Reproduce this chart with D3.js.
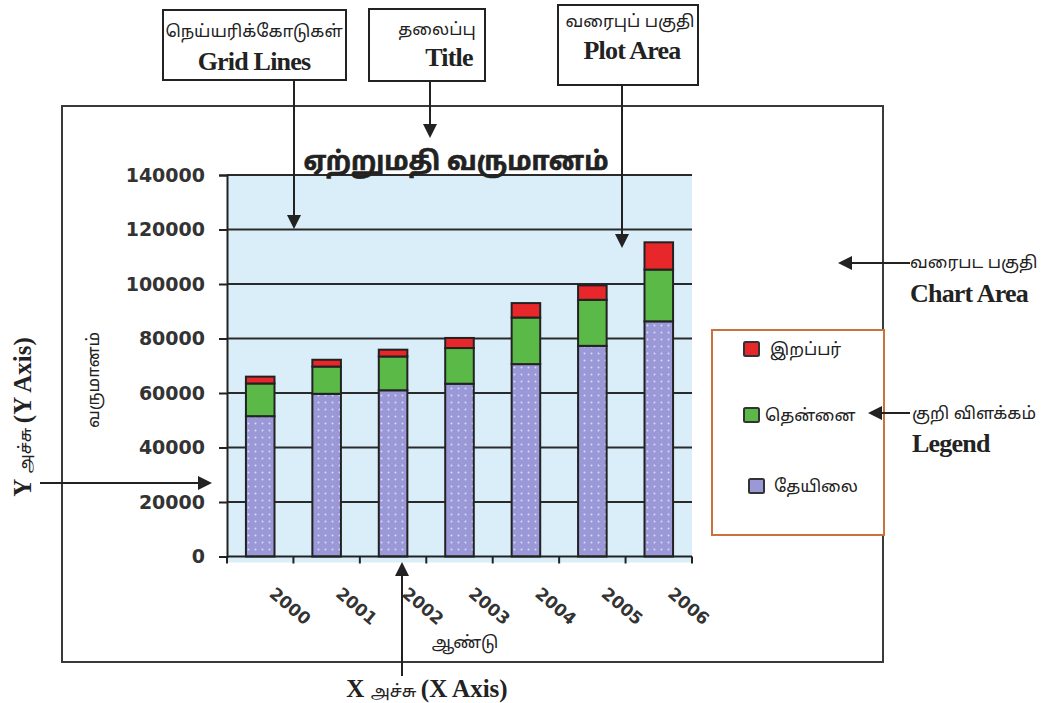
<!DOCTYPE html>
<html>
<head>
<meta charset="utf-8">
<script src="https://cdn.jsdelivr.net/npm/d3@7"></script>
<style>
  html, body { margin: 0; padding: 0; background: #ffffff; }
  svg { display: block; }
  .ta { font-family: "Noto Sans Tamil", "Lohit Tamil", "Noto Sans", sans-serif; fill: #222; }
  .en { font-family: "Liberation Serif", "Times New Roman", serif; font-weight: bold; fill: #222; }
  .num { font-family: "DejaVu Sans", sans-serif; font-weight: bold; fill: #333; }
</style>
</head>
<body>
<svg id="chart" width="1050" height="703"></svg>
<script>
// ---- data ----
const years = ["2000", "2001", "2002", "2003", "2004", "2005", "2006"];
const tea = [51500, 59700, 61000, 63400, 70600, 77300, 86300];      // தேயிலை
const coconut = [12000, 10000, 12400, 13100, 17100, 16900, 19000];  // தென்னை
const rubber = [2500, 2500, 2500, 3700, 5300, 5300, 10000];        // இறப்பர்
const seriesNames = ["தேயிலை", "தென்னை", "இறப்பர்"];
const yTicks = [0, 20000, 40000, 60000, 80000, 100000, 120000, 140000];
const chartTitle = "ஏற்றுமதி வருமானம்";
const yTitle = "வருமானம்";
const xTitle = "ஆண்டு";

// ---- layout ----
const svg = d3.select("#chart");
const plot = { left: 227, right: 692, top: 175, bottom: 556.5 };
const ink = "#222";

const x = d3.scaleBand().domain(years).range([plot.left, plot.right])
  .paddingInner(0.57).paddingOuter(0.285);
const y = d3.scaleLinear().domain([0, 140000]).range([plot.bottom, plot.top]);

const colors = { "தேயிலை": "url(#dots)", "தென்னை": "#5bb948", "இறப்பர்": "#e8272b" };
const swatch = { "தேயிலை": "#9b98d8", "தென்னை": "#5bb948", "இறப்பர்": "#e8272b" };

// defs
const defs = svg.append("defs");
const pat = defs.append("pattern").attr("id", "dots").attr("patternUnits", "userSpaceOnUse")
  .attr("width", 7).attr("height", 7);
pat.append("rect").attr("width", 7).attr("height", 7).attr("fill", "#9b98d8");
pat.append("circle").attr("cx", 3.5).attr("cy", 3.5).attr("r", 1).attr("fill", "#dcdbf6");

function arrowHead(g, tipX, tipY, dir) {
  const L = 14, W = 7;
  let pts;
  if (dir === "down") pts = [[tipX, tipY], [tipX - W, tipY - L], [tipX + W, tipY - L]];
  if (dir === "up") pts = [[tipX, tipY], [tipX - W, tipY + L], [tipX + W, tipY + L]];
  if (dir === "right") pts = [[tipX, tipY], [tipX - L, tipY - W], [tipX - L, tipY + W]];
  if (dir === "left") pts = [[tipX, tipY], [tipX + L, tipY - W], [tipX + L, tipY + W]];
  g.append("path").attr("d", "M" + pts.map(p => p.join(",")).join("L") + "Z").attr("fill", ink);
}

// chart area frame
svg.append("rect").attr("x", 62).attr("y", 106).attr("width", 821).attr("height", 556)
  .attr("fill", "none").attr("stroke", "#3a3a3a").attr("stroke-width", 2);

// plot background
svg.append("rect").attr("x", plot.left).attr("y", plot.top)
  .attr("width", plot.right - plot.left).attr("height", plot.bottom - plot.top + 6)
  .attr("fill", "#d9eef8");

// gridlines
svg.append("g").selectAll("line").data(yTicks.filter(d => d > 0)).join("line")
  .attr("x1", plot.left).attr("x2", plot.right)
  .attr("y1", d => y(d)).attr("y2", d => y(d))
  .attr("stroke", "#2a2a2a").attr("stroke-width", 2);

// stacked bars
const table = years.map((yr, i) => ({ year: yr, "தேயிலை": tea[i], "தென்னை": coconut[i], "இறப்பர்": rubber[i] }));
const stack = d3.stack().keys(seriesNames)(table);
svg.append("g").selectAll("g").data(stack).join("g")
  .attr("fill", d => colors[d.key])
  .selectAll("rect").data(d => d).join("rect")
  .attr("x", d => x(d.data.year))
  .attr("y", d => y(d[1]))
  .attr("width", x.bandwidth())
  .attr("height", d => y(d[0]) - y(d[1]))
  .attr("stroke", ink).attr("stroke-width", 2);

// y axis
const yAxis = svg.append("g").attr("transform", `translate(${plot.left},0)`)
  .call(d3.axisLeft(y).tickValues(yTicks).tickFormat(d3.format("d")).tickSize(8).tickPadding(14));
yAxis.select(".domain").attr("stroke", ink).attr("stroke-width", 2);
yAxis.selectAll(".tick line").attr("stroke", ink).attr("stroke-width", 2);
yAxis.selectAll(".tick text").attr("class", "num").style("font-size", "19px");

// x axis (ticks at category boundaries)
const boundaries = years.map(d => x(d) + x.bandwidth() / 2 - x.step() / 2)
  .concat([x(years[years.length - 1]) + x.bandwidth() / 2 + x.step() / 2]);
const xg = svg.append("g");
xg.append("line").attr("x1", plot.left).attr("x2", plot.right)
  .attr("y1", y(0)).attr("y2", y(0)).attr("stroke", ink).attr("stroke-width", 2);
xg.selectAll("line.tk").data(boundaries).join("line").attr("class", "tk")
  .attr("x1", d => d).attr("x2", d => d).attr("y1", y(0)).attr("y2", y(0) + 7)
  .attr("stroke", ink).attr("stroke-width", 2);
xg.selectAll("text").data(years).join("text")
  .attr("class", "num").style("font-size", "17px")
  .attr("transform", d => `translate(${x(d) + x.bandwidth() / 2 + 8},${y(0) + 39}) rotate(40)`)
  .attr("text-anchor", "start")
  .text(d => d);

// titles
svg.append("text").attr("class", "ta").attr("x", 456).attr("y", 170)
  .attr("text-anchor", "middle").style("font-size", "26px").style("font-weight", "bold")
  .style("stroke", "#222").style("stroke-width", 0.6)
  .text(chartTitle);
svg.append("text").attr("class", "ta").attr("transform", "translate(99,380) rotate(-90)")
  .attr("text-anchor", "middle").style("font-size", "17px").text(yTitle);
svg.append("text").attr("class", "ta").attr("x", 465).attr("y", 648)
  .attr("text-anchor", "middle").style("font-size", "17px").text(xTitle);

// legend
svg.append("rect").attr("x", 712).attr("y", 330).attr("width", 172).attr("height", 205)
  .attr("fill", "#fff").attr("stroke", "#c8733d").attr("stroke-width", 2);
const legendItems = [
  { key: "இறப்பர்", sx: 744, sy: 342, tx: 770, ty: 355 },
  { key: "தென்னை", sx: 744, sy: 408, tx: 765, ty: 421 },
  { key: "தேயிலை", sx: 749, sy: 479, tx: 774, ty: 492 }
];
legendItems.forEach(it => {
  svg.append("rect").attr("x", it.sx).attr("y", it.sy).attr("width", 15).attr("height", 14)
    .attr("fill", swatch[it.key]).attr("stroke", "#333").attr("stroke-width", 2).attr("rx", 1.5);
  svg.append("text").attr("class", "ta").attr("x", it.tx).attr("y", it.ty)
    .style("font-size", "17px").text(it.key);
});

// annotation boxes
const boxes = [
  { x: 163, y: 10, w: 183, h: 70, ta: "நெய்யரிக்கோடுகள்", en: "Grid Lines", tcx: 254, ecx: 254, ty: 37, ey: 70 },
  { x: 369, y: 9, w: 116, h: 72, ta: "தலைப்பு", en: "Title", tcx: 437, ecx: 449, ty: 35, ey: 66 },
  { x: 558, y: 5, w: 140, h: 80, ta: "வரைபுப் பகுதி", en: "Plot Area", tcx: 630, ecx: 632, ty: 27, ey: 59 }
];
boxes.forEach(b => {
  svg.append("rect").attr("x", b.x).attr("y", b.y).attr("width", b.w).attr("height", b.h)
    .attr("fill", "#fff").attr("stroke", ink).attr("stroke-width", 2);
  svg.append("text").attr("class", "ta").attr("x", b.tcx).attr("y", b.ty)
    .attr("text-anchor", "middle").style("font-size", "17px").text(b.ta);
  svg.append("text").attr("class", "en").attr("x", b.ecx).attr("y", b.ey)
    .attr("text-anchor", "middle").style("font-size", "26px").style("letter-spacing", "-0.8px").text(b.en);
});

// arrows
const arr = svg.append("g");
function vline(xx, y1, y2) {
  arr.append("line").attr("x1", xx).attr("x2", xx).attr("y1", y1).attr("y2", y2)
    .attr("stroke", ink).attr("stroke-width", 2);
}
function hline(yy, x1, x2) {
  arr.append("line").attr("x1", x1).attr("x2", x2).attr("y1", yy).attr("y2", yy)
    .attr("stroke", ink).attr("stroke-width", 2);
}
vline(294, 80, 220); arrowHead(arr, 294, 229, "down");
vline(430, 81, 130); arrowHead(arr, 430, 138, "down");
vline(622, 85, 240); arrowHead(arr, 622, 248, "down");
hline(263, 850, 910); arrowHead(arr, 838, 263, "left");
hline(413, 878, 910); arrowHead(arr, 868, 413, "left");
hline(483, 40, 200); arrowHead(arr, 212, 483, "right");
vline(402, 570, 676); arrowHead(arr, 402, 562, "up");

// outside annotation texts
svg.append("text").attr("class", "ta").attr("x", 910).attr("y", 268).style("font-size", "17px").text("வரைபட பகுதி");
svg.append("text").attr("class", "en").attr("x", 910).attr("y", 302).style("font-size", "26px").style("letter-spacing", "-0.8px").text("Chart Area");
svg.append("text").attr("class", "ta").attr("x", 912).attr("y", 419).style("font-size", "17px").text("குறி விளக்கம்");
svg.append("text").attr("class", "en").attr("x", 912).attr("y", 452).style("font-size", "26px").style("letter-spacing", "-0.8px").text("Legend");

// Y axis annotation (rotated)
const ya = svg.append("text").attr("transform", "translate(31,417) rotate(-90)").attr("text-anchor", "middle");
ya.append("tspan").attr("class", "en").style("font-size", "25px").text("Y ");
ya.append("tspan").attr("class", "ta").style("font-size", "17px").text("அச்சு ");
ya.append("tspan").attr("class", "en").style("font-size", "25px").text("(Y Axis)");

// X axis annotation
const xa = svg.append("text").attr("x", 427).attr("y", 697).attr("text-anchor", "middle");
xa.append("tspan").attr("class", "en").style("font-size", "25px").text("X ");
xa.append("tspan").attr("class", "ta").style("font-size", "17px").text("அச்சு ");
xa.append("tspan").attr("class", "en").style("font-size", "25px").text("(X Axis)");
</script>
</body>
</html>
